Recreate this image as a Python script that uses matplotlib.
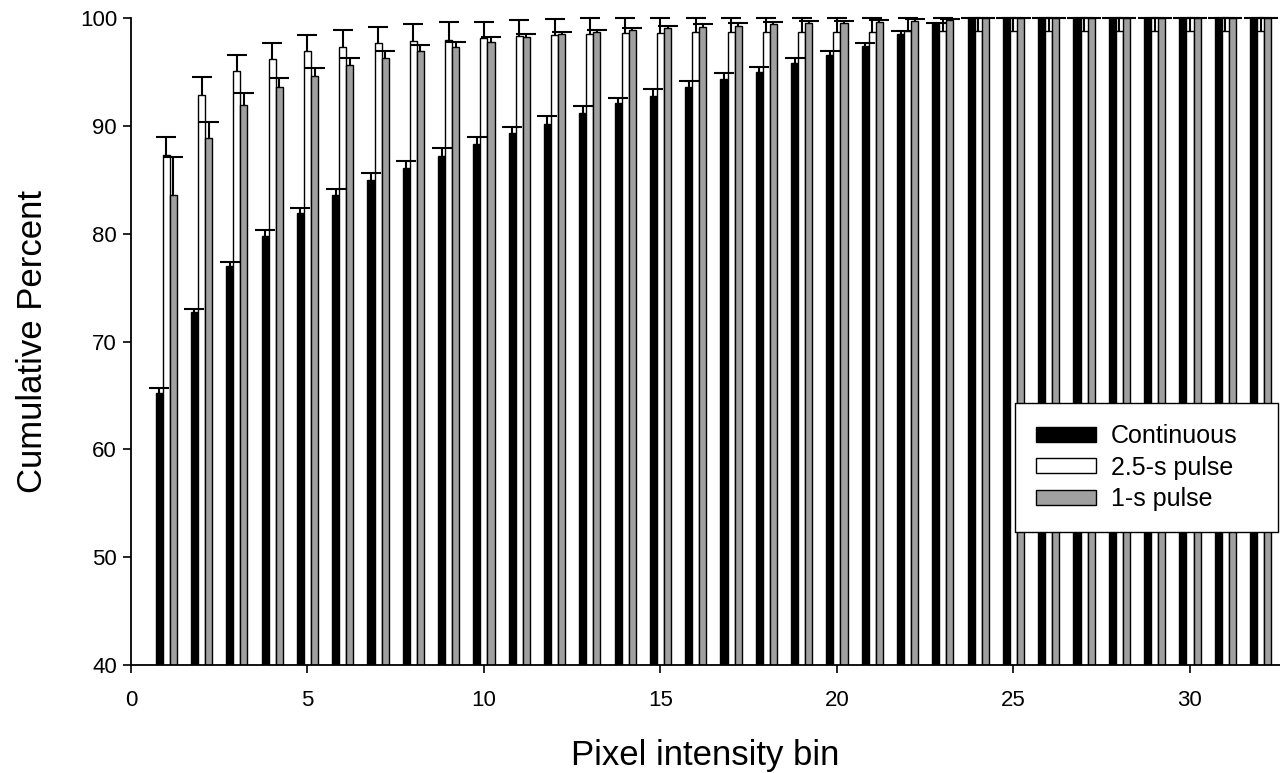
import matplotlib
matplotlib.use("Agg")
import matplotlib.pyplot as plt
import numpy as np

plt.rcParams['font.family'] = ['Liberation Sans', 'DejaVu Sans']

# bins 1..32
bins = np.arange(1, 33)

# cumulative percent
continuous = [65.2, 72.7, 77.0, 79.8, 81.9, 83.6, 85.0, 86.1, 87.2, 88.3,
              89.3, 90.2, 91.2, 92.1, 92.8, 93.6, 94.3, 95.0, 95.8, 96.6,
              97.4, 98.5, 99.4, 100, 100, 100, 100, 100, 100, 100, 100, 100]
continuous_err = [0.45, 0.3, 0.4, 0.5, 0.5, 0.5, 0.6, 0.6, 0.7, 0.7,
                  0.6, 0.7, 0.6, 0.5, 0.6, 0.6, 0.6, 0.5, 0.5, 0.3,
                  0.3, 0.3, 0.1, 0, 0, 0, 0, 0, 0, 0, 0, 0]

pulse25 = [87.3, 92.9, 95.1, 96.2, 96.9, 97.3, 97.7, 97.9, 98.0, 98.1,
           98.3, 98.4, 98.5, 98.6, 98.6, 98.7, 98.7, 98.7, 98.7, 98.7,
           98.7, 98.8, 98.8, 98.8, 98.8, 98.8, 98.8, 98.8, 98.8, 98.8, 98.8, 98.8]
pulse25_err = [1.7, 1.6, 1.5, 1.45, 1.5, 1.6, 1.5, 1.5, 1.6, 1.5,
               1.5, 1.5, 1.5, 1.4, 1.4, 1.3, 1.3, 1.3, 1.3, 1.3,
               1.3, 1.2, 1.2, 1.2, 1.2, 1.2, 1.2, 1.2, 1.2, 1.2, 1.2, 1.2]

pulse1 = [83.6, 88.9, 91.9, 93.6, 94.6, 95.6, 96.3, 96.9, 97.3, 97.8,
          98.2, 98.5, 98.7, 98.9, 99.1, 99.2, 99.3, 99.4, 99.5, 99.5,
          99.6, 99.7, 99.8, 100, 100, 100, 100, 100, 100, 100, 100, 100]
pulse1_err = [3.5, 1.5, 1.1, 0.8, 0.8, 0.7, 0.6, 0.6, 0.5, 0.4,
              0.3, 0.2, 0.2, 0.2, 0.2, 0.2, 0.2, 0.2, 0.2, 0.2,
              0.2, 0.2, 0.1, 0, 0, 0, 0, 0, 0, 0, 0, 0]

labels = ["Continuous", "2.5-s pulse", "1-s pulse"]
colors = ["black", "white", "#a0a0a0"]

fig = plt.figure(figsize=(12.8, 7.73), dpi=100)
ax = fig.add_axes([0.1023, 0.1397, 0.8977, 0.837])

w = 0.2
offsets = [-0.2, 0.0, 0.2]
series = [(continuous, continuous_err), (pulse25, pulse25_err), (pulse1, pulse1_err)]
for (vals, err), off, col, lab in zip(series, offsets, colors, labels):
    vals = np.array(vals)
    err = np.array(err)
    ax.bar(bins + off, vals, width=w, color=col, edgecolor="black",
           linewidth=1, label=lab, zorder=2)
    eb = ax.errorbar(bins + off, vals, yerr=[np.zeros_like(err), err],
                     fmt="none", ecolor="black", elinewidth=1.5,
                     capsize=7.2, capthick=1.5, zorder=3)
    caps = eb.lines[1]
    # only the upper cap is drawn in the original
    caps[0].set_visible(False)
    caps[1].set_clip_on(False)
    for art in eb.lines[2]:
        art.set_clip_on(False)

ax.set_xlim(0, 32.55)
ax.set_ylim(40, 100)
ax.set_xticks([0, 5, 10, 15, 20, 25, 30])
ax.set_yticks([40, 50, 60, 70, 80, 90, 100])

ax.spines['top'].set_visible(False)
ax.spines['right'].set_visible(False)
ax.spines['left'].set_linewidth(1.3)
ax.spines['bottom'].set_linewidth(1.3)
ax.tick_params(axis='both', direction='out', length=6, width=1.2, labelsize=16)
ax.tick_params(axis='x', pad=12)
ax.tick_params(axis='y', pad=4)

ax.set_xlabel("Pixel intensity bin", fontsize=25, labelpad=20)
ax.set_ylabel("Cumulative Percent", fontsize=25, labelpad=22)

leg = ax.legend(loc="upper left", bbox_to_anchor=(0.769, 0.405, 0.229, 0.0),
                mode="expand", fontsize=18, frameon=True, fancybox=False,
                shadow=False, framealpha=1,
                handlelength=2.4, handleheight=0.55, labelspacing=0.3,
                borderpad=0.85, handletextpad=0.6, borderaxespad=0)
leg.get_frame().set_edgecolor("black")
leg.get_frame().set_linewidth(1)

fig.savefig("out.png", dpi=100)
